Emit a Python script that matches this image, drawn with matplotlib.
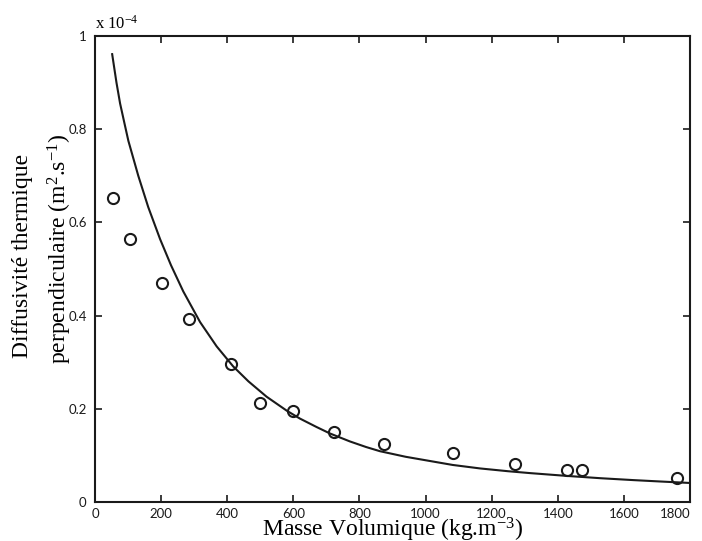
import matplotlib
matplotlib.use('Agg')
import matplotlib.pyplot as plt

# measured points (density kg/m3, diffusivity in units of 1e-4 m2/s)
density_pts = [55, 106, 202, 285, 411, 499, 600, 722, 874, 1082, 1270, 1429, 1472, 1760]
diffus_pts = [0.653, 0.564, 0.470, 0.392, 0.2955, 0.213, 0.195, 0.150, 0.1245, 0.1045,
              0.081, 0.0687, 0.0687, 0.0508]

# model curve
density_curve = [52, 65, 76, 90, 101, 131, 161, 197, 230, 267, 318, 368, 418, 464, 519,
                 580, 620, 670, 711, 771, 820, 862, 940, 1013, 1082, 1165, 1250, 1316,
                 1427, 1530, 1628, 1710, 1795]
diffus_curve = [0.961, 0.900, 0.855, 0.810, 0.775, 0.700, 0.633, 0.564, 0.508, 0.452,
                0.386, 0.334, 0.291, 0.259, 0.226, 0.196, 0.179, 0.161, 0.147, 0.130,
                0.118, 0.109, 0.097, 0.088, 0.0795, 0.072, 0.066, 0.062, 0.056, 0.051,
                0.047, 0.044, 0.041]

x_ticks = [0, 200, 400, 600, 800, 1000, 1200, 1400, 1600, 1800]
y_ticks = [0, 0.2, 0.4, 0.6, 0.8, 1]
y_tick_labels = ['0', '0.2', '0.4', '0.6', '0.8', '1']

serif = ['Liberation Serif', 'DejaVu Serif']
tick_font = ['Lato', 'DejaVu Sans']

plt.rcParams['mathtext.fontset'] = 'custom'
plt.rcParams['mathtext.rm'] = 'Liberation Serif'
plt.rcParams['mathtext.it'] = 'Liberation Serif:italic'
plt.rcParams['mathtext.bf'] = 'Liberation Serif:bold'

fig = plt.figure(figsize=(7.02, 5.41), dpi=100)
ax = fig.add_axes([0.1353, 0.0721, 0.8476, 0.8614])

ax.plot(density_curve, diffus_curve, color='#1a1a1a', linewidth=1.5)
ax.plot(density_pts, diffus_pts, linestyle='none', marker='o', markersize=8,
        markerfacecolor='none', markeredgecolor='#1a1a1a', markeredgewidth=1.5)

ax.set_xlim(0, 1800)
ax.set_ylim(0, 1)
ax.set_xticks(x_ticks)
ax.set_yticks(y_ticks)
ax.set_yticklabels(y_tick_labels)
ax.tick_params(direction='in', length=5, width=1.2, top=True, right=True,
               labelsize=9.5, colors='#1a1a1a')
ax.tick_params(axis='y', pad=6)
ax.tick_params(axis='x', pad=4)
for lbl in ax.get_xticklabels() + ax.get_yticklabels():
    lbl.set_family(tick_font)
# keep the last x label inside the figure, as in the reference
ax.get_xticklabels()[-1].set_horizontalalignment('right')
ax.get_xticklabels()[-1].set_x(1808)
for sp in ax.spines.values():
    sp.set_linewidth(1.5)
    sp.set_color('#1a1a1a')

# scale factor shown at top-left
ax.text(0.0, 1.008, r'x 10$^{\mathrm{-4}}$', transform=ax.transAxes, fontsize=12,
        family=serif, ha='left', va='bottom')

ax.set_xlabel(r'Masse Volumique (kg.m$^{\mathrm{-3}}$)', fontsize=17, family=serif,
              labelpad=-3)

fig.text(0.032, 0.527, 'Diffusivité thermique', rotation=90, fontsize=17,
         family=serif, ha='center', va='center')
fig.text(0.085, 0.541, r'perpendiculaire (m$^{\mathrm{2}}$.s$^{\mathrm{-1}}$)', rotation=90,
         fontsize=17, family=serif, ha='center', va='center')

fig.savefig('out.png', dpi=100)
